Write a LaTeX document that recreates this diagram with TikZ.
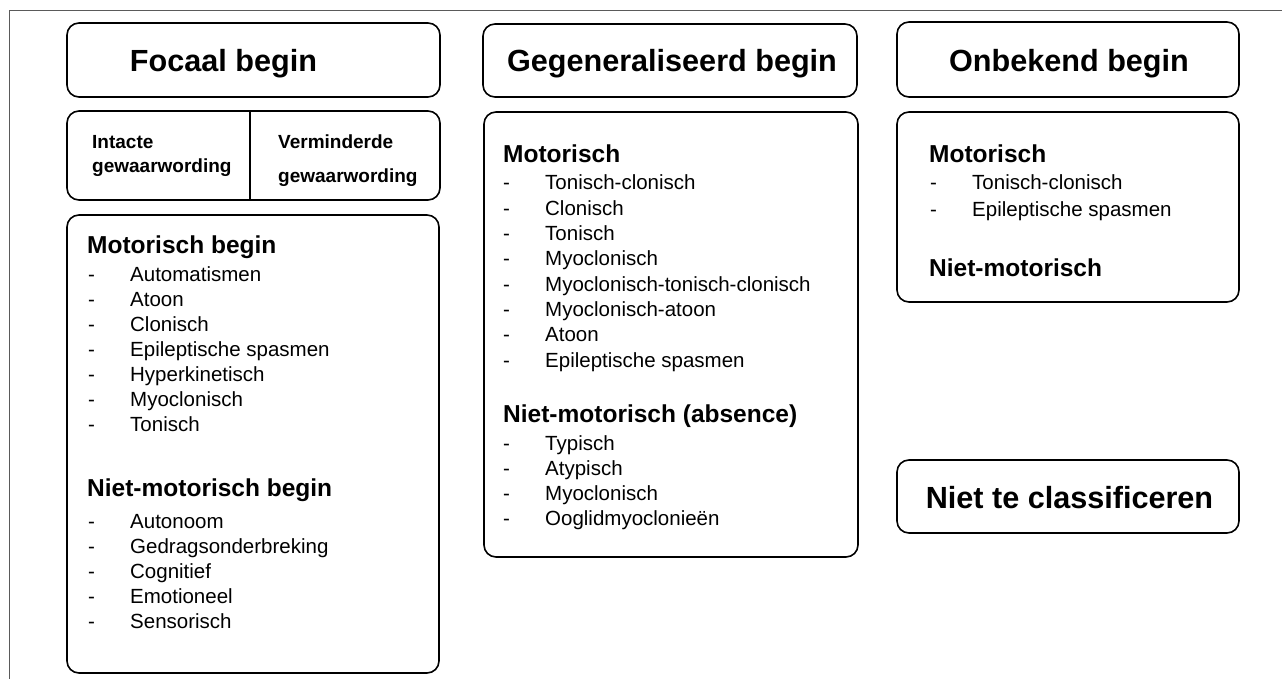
\documentclass[tikz,border=0pt]{standalone}
\usepackage{fontspec}
\setmainfont{Liberation Sans}
\usepackage{tikz}
\usetikzlibrary{positioning}
\definecolor{framegray}{HTML}{5A5A5A}
\newcommand{\dashitem}[1]{\makebox[42pt][l]{-}#1}
\tikzset{
  box/.style={draw,line width=1.6pt,rounded corners=12pt,inner sep=0pt},
  title/.style={font=\fontsize{30.6}{36}\selectfont\bfseries,anchor=base,inner sep=0pt},
  head/.style={font=\fontsize{24.5}{29}\selectfont\bfseries,anchor=base west,inner sep=0pt},
  sense/.style={font=\fontsize{19}{23}\selectfont\bfseries,anchor=base west,inner sep=0pt},
  item/.style={font=\fontsize{20.5}{25}\selectfont,anchor=base west,inner sep=0pt},
}

\begin{document}
\begin{tikzpicture}[x=1pt,y=-1pt]
        \useasboundingbox (0,0) rectangle (1282,679);
        % outer frame (top and left only)
        \draw[framegray,line width=0.9pt] (9,679) -- (9,10) -- (1282,10);

        % Focaal begin
        \node[box,minimum width=373pt,minimum height=74pt] (focal) at (253.5,60) {};
        \node[title] (focaltxt) at (223.5,72) {Focaal begin};
        \node[box,minimum width=373pt,minimum height=89pt] (split) at (253.5,155.5) {};
        \draw[line width=2.4pt] (split.north -| 250,0) -- (split.south -| 250,0);
        \node[sense] (intact1) at (92,149) {Intacte};
        \node[sense] (intact2) at (92,173) {gewaarwording};
        \node[sense] (vermin1) at (278,149) {Verminderde};
        \node[sense] (vermin2) at (278,183) {gewaarwording};
        \node[box,minimum width=372pt,minimum height=458pt] (focbody) at (253,444) {};
        \node[head] (focmot) at (87,253) {Motorisch begin};
        \foreach \t [count=\i] in {Automatismen,Atoon,Clonisch,Epileptische spasmen,
            Hyperkinetisch,Myoclonisch,Tonisch}
          \node[item] (focmot\i) at (88,{256+25*\i}) {\dashitem{\t}};
        \node[head] (focnon) at (87,496) {Niet-motorisch begin};
        \foreach \t [count=\i] in {Autonoom,Gedragsonderbreking,Cognitief,Emotioneel,Sensorisch}
          \node[item] (focnon\i) at (88,{503+25*\i}) {\dashitem{\t}};

        % Gegeneraliseerd begin
        \node[box,minimum width=374pt,minimum height=73pt] (gen) at (670,60.5) {};
        \node[title] (gentxt) at (672,72) {Gegeneraliseerd begin};
        \node[box,minimum width=374pt,minimum height=445pt] (genbody) at (671,334.5) {};
        \node[head] (genmot) at (503,163) {Motorisch};
        \foreach \t [count=\i] in {Tonisch-clonisch,Clonisch,Tonisch,Myoclonisch,
            Myoclonisch-tonisch-clonisch,Myoclonisch-atoon,Atoon,Epileptische spasmen}
          \node[item] (genmot\i) at (503,{164.7+25.3*\i}) {\dashitem{\t}};
        \node[head] (gennon) at (503,422) {Niet-motorisch (absence)};
        \foreach \t [count=\i] in {Typisch,Atypisch,Myoclonisch,Ooglidmyoclonieën}
          \node[item] (gennon\i) at (503,{424.7+25.3*\i}) {\dashitem{\t}};

        % Onbekend begin
        \node[box,minimum width=342pt,minimum height=75pt] (onb) at (1068,59.5) {};
        \node[title] (onbtxt) at (1069,72) {Onbekend begin};
        \node[box,minimum width=342pt,minimum height=190pt] (onbbody) at (1068,207) {};
        \node[head] (onbmot) at (929,163) {Motorisch};
        \node[item] (onbmot1) at (930,190) {\dashitem{Tonisch-clonisch}};
        \node[item] (onbmot2) at (930,216) {\dashitem{Epileptische spasmen}};
        \node[head] (onbnon) at (929,276) {Niet-motorisch};

        % Niet te classificeren
        \node[box,minimum width=342pt,minimum height=73pt] (unclass) at (1068,496.5) {};
        \node[title] (unclasstxt) at (1069.5,508) {Niet te classificeren};
      \end{tikzpicture}
\end{document}
